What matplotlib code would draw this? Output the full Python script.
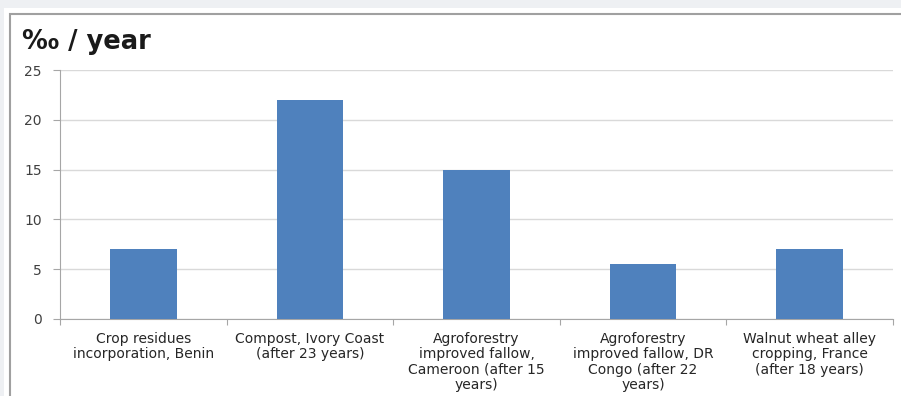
import matplotlib.pyplot as plt
from matplotlib.patches import Rectangle

categories = [
    "Crop residues\nincorporation, Benin",
    "Compost, Ivory Coast\n(after 23 years)",
    "Agroforestry\nimproved fallow,\nCameroon (after 15\nyears)",
    "Agroforestry\nimproved fallow, DR\nCongo (after 22\nyears)",
    "Walnut wheat alley\ncropping, France\n(after 18 years)",
]
values = [7, 22, 15, 5.5, 7]
yticks = [0, 5, 10, 15, 20, 25]

W, H = 901, 396
fig = plt.figure(figsize=(W / 100, H / 100), dpi=100, facecolor="#eef0f3")

# white panel and its grey frame
fig.patches.append(Rectangle((4 / W, 0), 1, 1 - 8 / H, transform=fig.transFigure,
                             facecolor="white", edgecolor="none", zorder=0))
fig.patches.append(Rectangle((10 / W, -0.1), 1, 1.1 - 14 / H, transform=fig.transFigure,
                             facecolor="none", edgecolor="#a0a0a0", linewidth=1.5, zorder=1))

ax = fig.add_axes([60 / W, 77 / H, 833 / W, 249 / H])
ax.set_zorder(5)
ax.set_facecolor("none")

x = list(range(len(values)))
ax.bar(x, values, width=0.4, color="#4f81bd", zorder=3)

ax.set_xlim(-0.5, len(values) - 0.5)
ax.set_ylim(0, 25)
ax.set_yticks(yticks)
ax.grid(axis="y", color="#d9d9d9", linewidth=1, zorder=0)
for s in ["top", "right"]:
    ax.spines[s].set_visible(False)
ax.spines["left"].set_color("#a6a6a6")
ax.spines["bottom"].set_color("#a6a6a6")

ax.tick_params(axis="y", length=5, color="#a6a6a6", labelsize=10, labelcolor="#404040", pad=8)
ax.set_xticks([i - 0.5 for i in range(len(values) + 1)], minor=False)
ax.set_xticklabels([])
ax.tick_params(axis="x", which="major", length=4, color="#a6a6a6")
ax.set_xticks(x, minor=True)
ax.set_xticklabels(categories, minor=True, fontsize=10, color="#262626", linespacing=1.15)
ax.tick_params(axis="x", which="minor", length=0, pad=9)

fig.text(22 / W, 1 - 49 / H, "‰ / year", fontsize=18.5, fontweight="bold", color="#1a1a1a")

fig.savefig("out.png", dpi=100, facecolor=fig.get_facecolor())
